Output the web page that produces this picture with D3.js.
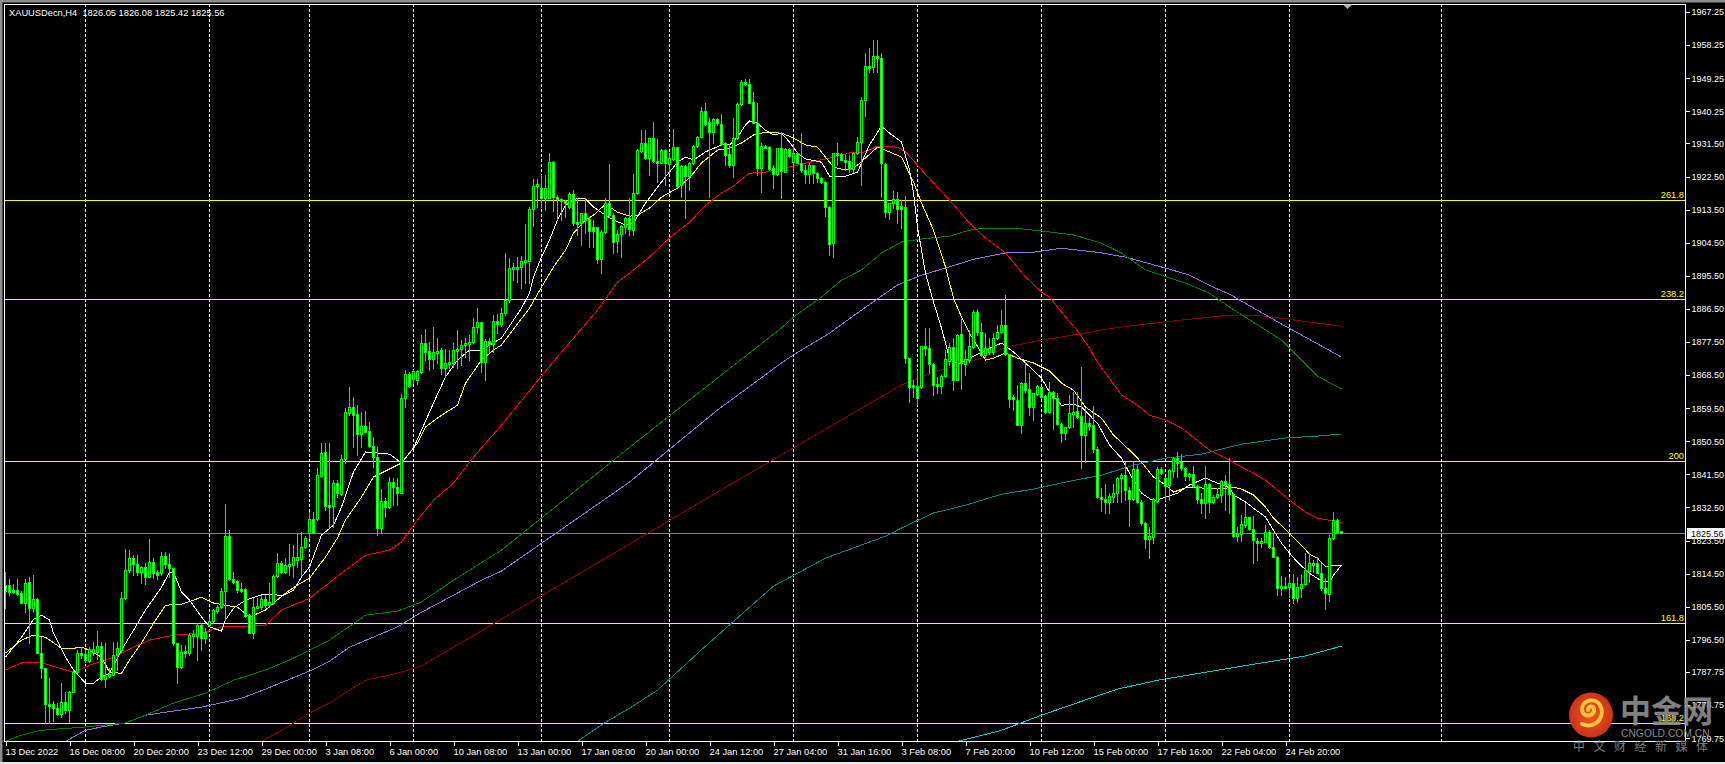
<!DOCTYPE html>
<html>
<head>
<meta charset="utf-8">
<title>XAUUSDecn,H4</title>
<script src="https://cdn.jsdelivr.net/npm/d3@7"></script>
<style>
  html, body { margin: 0; padding: 0; background: #000; overflow: hidden; }
  svg { display: block; }
  text { font-family: "Liberation Sans", Arial, sans-serif; font-size: 9.3px; fill: #fff; }
</style>
</head>
<body>
<svg width="1725" height="764"></svg>
<script>
// candles, one entry per H4 bar
const opens = [
  1811.4,1811.4,1810.0,1810.0,1809.2,1806.5,1812.2,1805.1,1807.6,1792.9,
  1788.8,1779.0,1779.0,1777.9,1776.3,1779.6,1777.4,1782.3,1787.7,1792.9,
  1792.6,1790.7,1793.2,1793.2,1794.8,1785.8,1786.6,1786.9,1792.3,1793.7,
  1807.8,1815.5,1818.7,1817.1,1814.9,1816.3,1813.6,1817.6,1814.9,1814.6,
  1819.3,1817.1,1816.0,1795.6,1789.1,1793.4,1792.9,1797.5,1797.5,1800.5,
  1797.0,1800.5,1801.6,1804.3,1805.4,1809.8,1824.7,1813.0,1812.5,1810.3,
  1810.3,1803.2,1798.3,1805.1,1805.4,1807.6,1805.9,1806.5,1813.8,1817.4,
  1814.9,1816.8,1816.8,1818.2,1818.4,1821.7,1825.5,1829.3,1829.3,1841.0,
  1847.6,1833.1,1832.9,1839.1,1836.1,1845.6,1858.2,1859.8,1857.9,1852.5,
  1854.6,1853.3,1849.2,1846.2,1826.9,1834.2,1832.6,1839.4,1838.0,1836.4,
  1862.2,1868.8,1867.4,1867.1,1869.3,1877.2,1875.0,1872.9,1874.5,1875.3,
  1870.4,1871.5,1871.8,1875.0,1875.6,1876.7,1877.2,1877.5,1881.6,1882.9,
  1872.0,1877.7,1876.9,1883.2,1882.4,1885.4,1888.9,1897.6,1897.6,1897.9,
  1899.5,1899.5,1913.7,1919.9,1919.4,1916.6,1916.6,1926.4,1916.9,1916.4,
  1915.8,1914.2,1917.7,1910.1,1909.8,1912.6,1910.9,1908.8,1908.8,1900.0,
  1907.4,1915.3,1912.0,1904.9,1906.9,1908.8,1911.2,1907.9,1918.0,1929.4,
  1931.6,1927.5,1932.9,1926.7,1926.2,1929.7,1925.9,1927.3,1930.5,1920.2,
  1925.3,1922.6,1926.2,1930.8,1933.2,1940.3,1937.3,1934.6,1938.1,1936.8,
  1931.6,1928.6,1925.6,1932.9,1942.2,1948.2,1947.7,1942.8,1937.0,1924.8,
  1930.8,1930.5,1924.8,1923.2,1930.2,1923.7,1930.0,1926.4,1928.9,1926.2,
  1924.3,1923.2,1925.6,1923.4,1922.1,1921.0,1914.2,1904.4,1928.9,1928.6,
  1927.0,1926.7,1924.5,1928.9,1931.9,1943.3,1952.5,1952.3,1955.3,1954.7,
  1925.9,1912.8,1915.3,1916.4,1914.5,1914.2,1873.1,1865.8,1865.5,1865.2,
  1876.4,1875.8,1871.5,1866.1,1865.5,1868.2,1872.3,1876.1,1867.1,1879.7,
  1871.5,1872.6,1876.1,1885.6,1880.2,1873.9,1874.8,1874.8,1878.6,1880.2,
  1882.1,1874.2,1862.5,1861.7,1854.9,1866.3,1864.7,1859.8,1863.3,1865.2,
  1862.8,1858.4,1863.9,1862.2,1855.2,1852.7,1854.4,1858.2,1858.7,1857.4,
  1852.2,1855.4,1854.9,1848.4,1835.3,1834.8,1834.0,1835.3,1836.4,1840.5,
  1841.3,1837.2,1834.8,1842.9,1834.0,1828.2,1823.9,1824.4,1834.2,1842.9,
  1840.5,1838.6,1842.4,1845.9,1844.8,1843.2,1841.0,1841.6,1838.3,1834.8,
  1833.7,1838.9,1834.0,1835.3,1835.9,1839.7,1838.9,1836.1,1824.7,1825.3,
  1827.7,1829.9,1826.6,1823.4,1823.1,1823.1,1825.8,1821.7,1819.0,1810.6,
  1811.1,1810.8,1811.9,1807.8,1810.6,1811.6,1815.2,1817.1,1817.4,1814.6,
  1810.6,1808.9,1824.2,1829.1,1826.05
];
const highs = [
  1814.9,1813.0,1811.6,1813.0,1809.8,1813.0,1813.6,1814.1,1807.8,1797.2,
  1788.8,1786.1,1779.8,1779.3,1784.7,1782.3,1782.5,1788.3,1793.7,1794.5,
  1793.7,1794.5,1795.9,1798.9,1795.9,1795.6,1788.8,1795.9,1795.9,1809.5,
  1821.2,1820.9,1819.5,1819.5,1816.5,1817.4,1823.9,1818.7,1815.5,1820.4,
  1820.4,1820.1,1816.0,1795.6,1795.1,1795.1,1798.3,1799.1,1801.0,1801.0,
  1799.7,1802.7,1804.9,1805.9,1810.6,1833.4,1826.3,1814.9,1812.7,1811.9,
  1810.6,1803.5,1807.8,1807.8,1808.7,1808.7,1811.9,1814.1,1820.1,1817.9,
  1818.7,1822.5,1822.3,1825.3,1825.8,1824.7,1831.2,1831.2,1843.2,1850.0,
  1850.0,1850.0,1839.9,1839.9,1846.7,1859.5,1865.2,1862.5,1860.3,1858.4,
  1858.7,1855.7,1851.6,1848.9,1837.5,1835.0,1840.8,1840.5,1840.5,1863.3,
  1869.9,1869.3,1869.9,1869.9,1879.4,1881.0,1877.5,1881.6,1878.6,1875.8,
  1875.6,1875.3,1877.2,1880.7,1878.0,1878.6,1879.4,1884.0,1886.7,1882.9,
  1878.3,1878.6,1884.8,1885.1,1886.7,1901.7,1900.3,1899.0,1900.6,1900.9,
  1909.6,1914.2,1921.8,1921.8,1922.9,1922.9,1928.9,1926.7,1917.5,1916.6,
  1916.1,1918.3,1918.8,1916.6,1912.6,1916.6,1911.5,1910.7,1908.8,1907.9,
  1916.6,1925.9,1912.6,1907.9,1909.3,1911.5,1916.6,1923.2,1930.0,1935.1,
  1935.1,1932.9,1937.3,1932.7,1930.0,1930.0,1928.9,1935.4,1930.5,1925.6,
  1925.6,1926.4,1931.1,1933.5,1941.4,1942.5,1938.4,1938.4,1938.4,1939.5,
  1931.9,1931.3,1938.4,1942.5,1948.7,1949.0,1949.0,1945.5,1942.5,1931.6,
  1931.1,1930.8,1925.6,1930.2,1934.6,1930.2,1930.2,1931.1,1929.2,1934.3,
  1925.6,1926.2,1925.6,1923.7,1922.4,1921.3,1914.5,1928.9,1931.6,1928.9,
  1928.3,1928.3,1929.2,1933.2,1944.1,1956.1,1957.4,1959.6,1959.6,1956.1,
  1926.2,1915.3,1918.5,1918.3,1916.1,1917.2,1873.1,1867.1,1869.9,1876.4,
  1881.3,1881.3,1871.8,1868.0,1868.5,1875.3,1877.2,1878.6,1879.7,1883.7,
  1875.3,1880.7,1886.2,1886.4,1882.6,1879.9,1878.6,1879.9,1882.1,1886.2,
  1890.3,1874.2,1863.1,1865.8,1866.6,1872.0,1869.0,1863.6,1865.8,1865.2,
  1863.1,1866.6,1864.1,1863.6,1855.4,1854.4,1863.1,1863.9,1863.9,1870.7,
  1859.5,1856.8,1860.1,1848.9,1837.8,1838.9,1836.4,1838.9,1840.8,1841.8,
  1844.8,1838.0,1845.1,1844.0,1834.5,1828.5,1827.2,1835.0,1843.5,1843.5,
  1840.8,1842.9,1846.2,1847.6,1847.0,1843.5,1841.8,1843.7,1838.6,1836.4,
  1843.7,1839.1,1835.9,1837.2,1839.9,1841.3,1845.9,1836.4,1827.2,1830.4,
  1833.7,1829.9,1830.2,1824.2,1824.2,1827.7,1826.3,1825.5,1819.3,1813.8,
  1813.6,1813.6,1814.4,1813.6,1814.1,1820.1,1820.1,1818.2,1819.0,1817.4,
  1813.3,1824.9,1831.2,1829.3,1826.08
];
const lows = [
  1805.1,1808.7,1809.2,1808.7,1806.5,1804.0,1795.6,1804.0,1792.9,1786.1,
  1773.8,1773.8,1774.4,1776.0,1775.5,1776.6,1774.1,1782.3,1787.4,1791.5,
  1790.4,1790.4,1792.4,1791.3,1785.5,1783.6,1786.4,1786.9,1788.3,1793.2,
  1807.6,1814.9,1814.1,1814.1,1811.9,1811.6,1813.6,1813.3,1813.0,1814.1,
  1816.0,1813.6,1795.1,1784.7,1788.8,1791.8,1792.3,1794.5,1791.0,1793.7,
  1795.6,1800.2,1801.3,1803.8,1805.1,1801.9,1812.7,1811.9,1809.5,1809.5,
  1802.7,1798.3,1797.0,1805.1,1804.9,1805.4,1805.4,1806.2,1813.6,1814.6,
  1814.6,1814.1,1813.6,1816.3,1814.1,1821.4,1824.2,1825.5,1829.1,1840.8,
  1831.8,1827.2,1827.2,1835.3,1835.9,1844.6,1857.6,1848.9,1846.7,1848.9,
  1853.0,1848.9,1843.5,1825.0,1825.5,1830.0,1832.3,1833.1,1833.1,1836.4,
  1859.8,1865.2,1866.3,1866.1,1869.0,1872.6,1869.9,1870.4,1871.8,1868.8,
  1868.0,1870.4,1870.7,1870.4,1871.2,1873.4,1872.6,1877.2,1879.9,1869.3,
  1867.1,1874.8,1874.8,1879.9,1881.8,1884.8,1888.4,1894.3,1893.8,1892.2,
  1893.5,1893.5,1909.0,1914.2,1914.2,1913.4,1916.6,1913.1,1910.9,1910.7,
  1911.5,1913.9,1909.3,1906.6,1903.9,1907.1,1903.3,1903.3,1898.9,1896.2,
  1907.1,1911.5,1901.7,1902.0,1900.6,1907.1,1906.6,1906.6,1917.7,1929.2,
  1927.3,1922.9,1926.4,1921.0,1926.2,1920.2,1923.4,1927.0,1919.6,1916.9,
  1911.2,1918.8,1925.9,1930.5,1933.2,1936.5,1916.9,1931.6,1936.5,1931.1,
  1925.6,1925.1,1922.4,1932.7,1941.9,1947.4,1942.5,1937.0,1922.9,1918.3,
  1930.2,1924.3,1919.4,1922.9,1916.6,1923.7,1927.8,1923.7,1926.2,1923.7,
  1920.7,1920.7,1920.7,1921.0,1920.7,1911.7,1901.1,1900.6,1925.6,1927.0,
  1924.3,1923.7,1923.7,1928.6,1920.2,1939.0,1950.9,1950.9,1950.9,1916.9,
  1911.5,1910.9,1913.9,1909.8,1908.5,1871.8,1861.2,1862.5,1860.3,1864.9,
  1873.9,1869.0,1863.1,1863.6,1863.6,1868.0,1871.2,1864.4,1867.1,1864.7,
  1868.5,1872.0,1875.8,1879.4,1873.7,1873.4,1874.2,1874.2,1878.3,1879.9,
  1873.9,1859.8,1859.0,1854.9,1852.7,1863.9,1857.6,1856.3,1863.1,1862.2,
  1858.2,1858.2,1853.8,1854.9,1850.3,1851.1,1854.1,1854.4,1856.8,1843.2,
  1844.8,1853.5,1847.6,1835.0,1831.5,1831.0,1831.0,1834.0,1834.0,1834.0,
  1834.5,1827.4,1834.5,1833.7,1827.7,1821.4,1818.7,1822.8,1834.0,1841.6,
  1834.5,1834.5,1840.8,1840.8,1842.7,1839.9,1839.9,1838.0,1833.7,1831.0,
  1829.6,1831.2,1833.7,1835.0,1834.0,1831.8,1831.0,1824.4,1823.4,1823.4,
  1827.2,1826.3,1817.4,1818.2,1821.7,1823.1,1821.4,1819.0,1808.7,1808.7,
  1810.6,1808.1,1806.5,1806.8,1808.1,1811.4,1812.2,1814.9,1814.6,1810.0,
  1804.9,1807.0,1823.9,1825.8,1825.42
];
const closes = [
  1809.8,1809.5,1809.5,1808.9,1806.5,1811.9,1805.1,1807.6,1792.9,1788.8,
  1779.0,1778.7,1777.9,1776.3,1779.6,1777.4,1782.3,1787.7,1792.9,1792.6,
  1791.0,1794.0,1794.0,1794.8,1785.8,1786.6,1787.2,1792.3,1794.2,1807.8,
  1815.5,1818.7,1817.1,1814.9,1816.3,1813.6,1817.6,1814.6,1814.1,1819.3,
  1817.1,1816.0,1795.6,1789.1,1793.2,1792.9,1797.8,1798.1,1800.5,1797.0,
  1798.6,1801.6,1804.6,1805.4,1809.8,1824.7,1813.0,1812.2,1810.0,1809.8,
  1803.0,1798.3,1805.4,1805.7,1807.6,1805.9,1806.8,1813.8,1817.4,1814.9,
  1816.8,1817.1,1819.0,1819.0,1821.7,1824.2,1829.3,1825.5,1841.3,1847.3,
  1832.9,1832.6,1839.1,1836.4,1845.6,1858.4,1859.8,1857.6,1852.5,1854.6,
  1853.0,1849.2,1846.2,1826.9,1834.2,1832.6,1839.4,1838.0,1836.4,1862.2,
  1868.8,1865.5,1869.6,1869.6,1877.2,1874.8,1872.9,1874.8,1875.0,1870.4,
  1871.8,1872.0,1875.3,1875.6,1876.7,1877.2,1877.5,1881.6,1882.9,1872.0,
  1877.7,1876.9,1883.2,1882.4,1885.4,1888.9,1897.6,1897.9,1897.9,1899.5,
  1899.8,1913.7,1919.9,1920.5,1916.6,1919.4,1926.4,1916.9,1916.6,1915.8,
  1915.3,1917.7,1909.8,1909.6,1912.6,1910.7,1907.7,1907.7,1900.0,1907.4,
  1915.3,1912.0,1904.7,1906.9,1909.0,1911.2,1908.2,1918.0,1929.7,1931.6,
  1927.5,1932.9,1926.7,1926.2,1929.7,1926.2,1927.5,1930.5,1919.9,1925.3,
  1922.6,1926.2,1930.8,1933.2,1940.3,1936.8,1934.6,1938.1,1937.0,1931.3,
  1928.3,1925.6,1932.9,1942.2,1948.2,1947.7,1942.5,1937.0,1924.8,1930.8,
  1930.5,1924.5,1923.2,1930.2,1924.0,1930.0,1928.1,1928.9,1926.2,1924.3,
  1923.2,1925.6,1923.4,1922.1,1921.0,1914.2,1904.1,1928.9,1928.6,1927.0,
  1926.4,1924.5,1928.9,1931.9,1943.3,1952.5,1952.3,1955.3,1954.7,1926.2,
  1912.8,1915.3,1916.4,1913.7,1913.7,1873.1,1865.2,1865.2,1862.2,1876.4,
  1875.8,1871.5,1865.8,1865.5,1868.2,1872.9,1876.1,1867.1,1879.4,1871.8,
  1872.9,1876.4,1885.6,1880.2,1873.9,1875.8,1875.8,1878.6,1880.2,1882.1,
  1874.2,1862.0,1862.0,1854.9,1866.3,1864.4,1859.8,1863.6,1865.5,1862.5,
  1858.4,1863.9,1862.2,1855.2,1852.7,1854.4,1858.2,1858.4,1857.1,1852.2,
  1855.4,1854.6,1848.4,1835.3,1834.8,1834.0,1835.6,1836.4,1840.5,1841.3,
  1837.2,1834.8,1842.9,1834.0,1828.2,1823.9,1824.7,1834.8,1842.9,1841.8,
  1838.3,1842.7,1845.9,1844.6,1843.2,1841.0,1841.6,1838.3,1834.8,1833.7,
  1838.9,1834.0,1835.3,1836.1,1839.7,1838.6,1836.1,1824.7,1825.3,1828.0,
  1829.9,1826.6,1823.6,1823.1,1823.4,1825.8,1821.7,1819.0,1810.6,1811.1,
  1810.6,1811.9,1807.8,1810.8,1811.6,1815.5,1817.4,1817.4,1814.6,1810.6,
  1809.2,1824.2,1829.1,1825.8,1825.56
];

// moving averages as [bar, price]
const maWhite = [[0,1791.8],[4,1797.2],[7,1802.1],[9,1803.2],[11,1801.9],[12,1798.3],[15,1791.8],[17,1788.3],[20,1784.7],[22,1784.7],[24,1786.4],[26,1787.4],[29,1793.7],[32,1799.1],[35,1804.6],[39,1810.8],[41,1814.9],[42,1814.9],[44,1809.5],[46,1807.3],[49,1802.7],[51,1800.0],[54,1798.9],[55,1801.9],[57,1805.1],[60,1807.3],[64,1808.7],[67,1808.9],[69,1808.4],[72,1810.0],[74,1813.6],[76,1816.3],[79,1825.0],[82,1827.7],[84,1832.6],[87,1842.1],[90,1847.6],[93,1847.3],[96,1847.0],[99,1844.6],[102,1848.6],[104,1853.5],[107,1860.9],[110,1868.0],[113,1872.6],[116,1875.3],[119,1875.3],[124,1878.6],[129,1886.7],[131,1890.8],[132,1895.2],[134,1900.6],[136,1905.2],[138,1910.7],[140,1914.7],[143,1916.6],[145,1916.4],[147,1914.2],[150,1912.0],[152,1910.7],[155,1909.3],[157,1909.8],[160,1915.3],[163,1919.6],[165,1922.4],[168,1926.4],[170,1927.8],[172,1927.0],[175,1929.2],[179,1931.1],[181,1931.1],[183,1933.2],[185,1936.5],[186,1937.6],[188,1937.0],[190,1935.1],[192,1933.8],[194,1934.3],[196,1931.9],[198,1928.9],[200,1927.3],[204,1926.4],[206,1922.6],[210,1922.6],[213,1923.7],[216,1931.1],[219,1936.2],[221,1934.3],[224,1931.9],[226,1924.3],[227,1918.0],[228,1908.8],[230,1896.2],[232,1888.4],[234,1881.3],[236,1873.1],[238,1871.5],[241,1873.1],[245,1875.3],[249,1877.2],[252,1874.8],[255,1871.8],[259,1867.7],[261,1863.9],[264,1860.3],[267,1860.6],[269,1859.8],[273,1855.4],[276,1849.5],[279,1845.9],[281,1841.8],[284,1836.4],[287,1834.2],[290,1835.3],[293,1836.4],[296,1838.6],[300,1840.5],[303,1839.1],[306,1838.0],[307,1835.9],[310,1834.0],[312,1832.3],[315,1829.9],[317,1826.3],[319,1822.8],[321,1820.1],[323,1817.6],[326,1814.6],[329,1812.5],[331,1812.2],[332,1814.1],[334,1816.8]];
const maYellow = [[0,1792.9],[4,1796.4],[7,1797.8],[10,1797.2],[14,1794.2],[17,1794.2],[19,1794.5],[21,1793.7],[24,1791.8],[26,1787.7],[29,1787.4],[31,1791.0],[34,1795.6],[37,1801.0],[40,1805.9],[44,1806.2],[47,1807.3],[49,1808.1],[52,1806.5],[55,1805.9],[58,1805.4],[61,1802.7],[65,1804.6],[67,1806.5],[70,1809.2],[73,1811.4],[76,1813.3],[80,1819.0],[83,1824.2],[85,1829.1],[89,1835.3],[92,1840.8],[95,1842.4],[99,1844.6],[103,1850.0],[105,1854.4],[109,1857.6],[113,1860.3],[115,1866.3],[119,1872.6],[122,1875.3],[124,1876.7],[131,1886.7],[134,1892.4],[137,1897.9],[140,1902.5],[142,1907.1],[145,1910.7],[147,1912.0],[150,1915.0],[153,1912.8],[156,1911.7],[158,1912.0],[161,1913.9],[164,1916.9],[168,1919.4],[171,1922.1],[174,1926.2],[178,1929.7],[181,1930.2],[184,1931.6],[187,1933.8],[190,1934.6],[194,1934.3],[197,1933.0],[200,1931.1],[203,1930.5],[205,1927.8],[207,1925.1],[209,1924.5],[211,1924.5],[213,1925.6],[218,1930.5],[221,1929.2],[224,1927.8],[227,1921.0],[229,1915.3],[232,1907.9],[235,1897.9],[237,1889.4],[239,1884.3],[241,1879.9],[244,1874.5],[245,1872.6],[247,1873.1],[250,1874.5],[253,1873.1],[257,1871.8],[261,1869.6],[264,1866.3],[267,1864.4],[270,1859.8],[274,1856.8],[277,1852.2],[281,1848.1],[284,1844.8],[287,1840.8],[290,1838.6],[292,1836.7],[295,1837.8],[299,1837.8],[303,1837.5],[307,1838.0],[309,1837.5],[312,1835.9],[315,1832.6],[317,1829.6],[321,1825.5],[324,1822.2],[326,1819.8],[328,1818.7],[330,1816.5],[334,1816.8]];
const maRed = [[0,1788.3],[4,1790.2],[9,1790.4],[11,1789.6],[17,1787.7],[21,1789.6],[27,1791.8],[32,1794.5],[36,1796.4],[42,1797.8],[49,1798.3],[54,1800.0],[60,1800.2],[65,1800.5],[69,1804.6],[76,1807.8],[84,1814.6],[90,1819.5],[96,1820.9],[99,1823.1],[102,1827.7],[107,1834.5],[112,1839.1],[117,1846.2],[124,1854.9],[136,1870.9],[148,1886.2],[153,1893.8],[156,1896.2],[161,1900.6],[166,1905.8],[171,1910.1],[175,1914.7],[179,1918.0],[182,1919.9],[186,1923.4],[190,1923.7],[196,1925.1],[201,1926.4],[206,1927.5],[211,1928.9],[215,1929.2],[218,1930.8],[223,1930.5],[225,1929.2],[228,1925.6],[232,1920.7],[236,1916.1],[241,1909.8],[245,1905.8],[250,1901.7],[255,1895.2],[259,1891.1],[261,1889.7],[265,1884.3],[268,1880.5],[271,1875.8],[273,1872.0],[279,1863.1],[283,1860.3],[286,1857.6],[290,1856.3],[294,1854.1],[301,1848.1],[305,1845.9],[309,1843.5],[312,1841.8],[315,1839.9],[321,1834.5],[325,1831.2],[328,1829.6],[332,1828.8],[334,1828.2]];
const maGreen = [[0,1768.9],[4,1770.6],[9,1771.9],[20,1772.8],[30,1773.9],[35,1776.0],[42,1779.3],[50,1782.0],[57,1785.5],[65,1788.3],[71,1791.0],[76,1793.7],[81,1796.4],[90,1803.2],[98,1804.3],[104,1806.8],[112,1812.7],[118,1816.8],[124,1820.9],[157,1849.7],[178,1867.7],[194,1881.3],[197,1884.3],[204,1889.7],[209,1894.3],[214,1897.1],[219,1901.7],[224,1904.7],[229,1905.5],[236,1906.3],[241,1907.9],[245,1908.5],[252,1908.5],[259,1907.7],[267,1906.6],[274,1904.4],[279,1901.7],[285,1897.1],[295,1893.5],[301,1890.8],[306,1887.0],[319,1878.0],[328,1868.2],[334,1864.7]];
const maPurple = [[15,1768.9],[20,1771.9],[24,1772.8],[30,1773.9],[35,1776.0],[40,1776.8],[49,1778.2],[59,1780.6],[65,1783.1],[76,1788.0],[81,1790.7],[86,1794.5],[98,1800.0],[104,1804.0],[119,1812.7],[124,1815.2],[156,1839.4],[178,1859.0],[194,1871.8],[197,1874.0],[206,1879.9],[213,1885.4],[219,1890.0],[223,1893.0],[229,1895.7],[235,1897.6],[242,1900.0],[250,1901.7],[257,1901.9],[264,1903.0],[273,1901.9],[280,1900.6],[290,1897.6],[296,1895.7],[302,1892.4],[306,1890.5],[319,1882.4],[334,1873.4]];
const maDarkRed = [[64,1768.9],[70,1772.5],[76,1776.6],[81,1779.3],[86,1782.8],[90,1785.5],[98,1787.4],[104,1789.4],[153,1820.6],[178,1836.7],[224,1865.8],[232,1869.3],[244,1873.1],[250,1876.1],[259,1878.0],[268,1879.6],[277,1881.3],[289,1882.9],[306,1884.8],[313,1884.8],[334,1881.8]];
const maTeal = [[143,1768.9],[150,1774.1],[156,1777.9],[163,1782.8],[175,1794.8],[192,1811.1],[205,1818.7],[220,1824.7],[224,1826.9],[232,1831.0],[240,1833.1],[249,1836.1],[257,1837.5],[265,1839.4],[274,1841.3],[282,1844.0],[290,1845.9],[299,1847.0],[309,1849.7],[320,1851.4],[328,1851.9],[334,1852.5]];
const maCyan = [[238,1768.9],[249,1771.9],[259,1776.0],[272,1780.9],[278,1783.1],[288,1785.5],[314,1790.2],[325,1792.1],[334,1794.8]];

// horizontal levels and their labels
const fibLevels = [1916.1, 1889.1, 1845.0, 1801.0, 1774.0];
const fibLabels = ['261.8', '238.2', '200', '161.8', '138.2'];
const lastPrice = 1825.56;

// axes
const priceTicks = [1967.25,1958.25,1949.25,1940.25,1931.50,1922.50,1913.50,1904.50,1895.50,1886.50,1877.50,1868.50,1859.50,1850.50,1841.50,1832.50,1823.50,1814.50,1805.50,1796.50,1787.75,1778.75,1769.75];
const timeLabels = ['13 Dec 2022','16 Dec 08:00','20 Dec 20:00','23 Dec 12:00','29 Dec 00:00','3 Jan 08:00','6 Jan 00:00','10 Jan 08:00','13 Jan 00:00','17 Jan 08:00','20 Jan 00:00','24 Jan 12:00','27 Jan 04:00','31 Jan 16:00','3 Feb 08:00','7 Feb 20:00','10 Feb 12:00','15 Feb 00:00','17 Feb 16:00','22 Feb 04:00','24 Feb 20:00'];
const timeLabelBars = timeLabels.map((d, i) => i * 16);
const separatorBars = [20, 51, 76, 102, 134, 166, 197, 228, 259, 290, 321, 359];

const svg = d3.select('svg');
const plot = { left: 4, top: 4, right: 1685, bottom: 741 };

const x = d3.scaleLinear().domain([0, 334]).range([5.5, 1341.5]);
const y = d3.scaleLinear().domain([1967.25, 1787.75]).range([12, 672]);
const py = (v) => Math.round(y(v)) + 0.5;

svg.append('rect').attr('width', 1725).attr('height', 764).attr('fill', '#000');

// window chrome
svg.append('rect').attr('width', 1725).attr('height', 2.5).attr('fill', '#8c8c8c');
svg.append('rect').attr('width', 2.5).attr('height', 764).attr('fill', '#8c8c8c');
svg.append('rect').attr('y', 762).attr('width', 1725).attr('height', 2).attr('fill', '#e8e8e8');

svg.append('clipPath').attr('id', 'plot-clip').append('rect')
  .attr('x', plot.left).attr('y', plot.top)
  .attr('width', plot.right - plot.left).attr('height', plot.bottom - plot.top);

const chart = svg.append('g').attr('clip-path', 'url(#plot-clip)');

// period separators
chart.selectAll('.sep').data(separatorBars).join('line')
  .attr('x1', (d) => x(d)).attr('x2', (d) => x(d))
  .attr('y1', plot.top).attr('y2', plot.bottom)
  .attr('stroke', '#fff').attr('stroke-dasharray', '3 2')
  .attr('shape-rendering', 'crispEdges');

// fibo levels + current price
chart.selectAll('.fib').data(fibLevels).join('line')
  .attr('x1', plot.left).attr('x2', plot.right)
  .attr('y1', (d) => py(d)).attr('y2', (d) => py(d))
  .attr('stroke', '#ffff00').attr('shape-rendering', 'crispEdges');

chart.append('line')
  .attr('x1', plot.left).attr('x2', plot.right)
  .attr('y1', py(lastPrice)).attr('y2', py(lastPrice))
  .attr('stroke', '#7d8494').attr('shape-rendering', 'crispEdges');

// moving averages
const maLine = d3.line().x((d) => x(d[0])).y((d) => y(d[1]));
const maSeries = [
  [maCyan, '#12c8d0'], [maTeal, '#0a8585'], [maDarkRed, '#8b0000'], [maPurple, '#9370db'],
  [maGreen, '#007f00'], [maRed, '#ff0000'], [maYellow, '#ffff00'], [maWhite, '#ffffff']
];
chart.selectAll('.ma').data(maSeries).join('path')
  .attr('fill', 'none')
  .attr('stroke', (d) => d[1])
  .attr('stroke-width', 1)
  .attr('shape-rendering', 'crispEdges')
  .attr('d', (d) => maLine(d[0]));

// candles
const bars = d3.range(opens.length);
const candle = chart.selectAll('.candle').data(bars).join('g')
  .attr('shape-rendering', 'crispEdges');

candle.append('rect')
  .attr('x', (i) => x(i) - 0.5).attr('width', 1)
  .attr('y', (i) => Math.round(y(highs[i])))
  .attr('height', (i) => Math.max(1, Math.round(y(lows[i])) - Math.round(y(highs[i])) + 1))
  .attr('fill', '#00ff00');

const bodyTop = (i) => Math.round(y(Math.max(opens[i], closes[i])));
const bodyHeight = (i) => Math.max(3, Math.round(y(Math.min(opens[i], closes[i]))) - bodyTop(i) + 1);

candle.append('rect')
  .attr('x', (i) => x(i) - 1.5).attr('width', 3)
  .attr('y', bodyTop)
  .attr('height', bodyHeight)
  .attr('fill', '#00ff00');

candle.append('rect')
  .attr('x', (i) => x(i) - 0.5).attr('width', 1)
  .attr('y', (i) => bodyTop(i) + 1)
  .attr('height', (i) => bodyHeight(i) - 2)
  .attr('fill', (i) => (closes[i] < opens[i] ? '#fff' : '#000'));

// frame
svg.append('path')
  .attr('d', `M${plot.left + 0.5},${plot.bottom + 0.5}V${plot.top + 0.5}H${plot.right + 0.5}V${plot.bottom + 0.5}H${plot.left + 0.5}`)
  .attr('fill', 'none').attr('stroke', '#fff').attr('shape-rendering', 'crispEdges');

// shift marker at the top of the chart
svg.append('path').attr('d', 'M1343,4.5H1352L1347.5,9Z').attr('fill', '#9fb4c6');

// price axis
const yAxis = svg.append('g')
  .attr('transform', `translate(${plot.right + 0.5},0)`)
  .call(d3.axisRight(y).tickValues(priceTicks).tickFormat((d) => d.toFixed(2)).tickSize(4).tickPadding(2));
yAxis.select('.domain').remove();
yAxis.selectAll('line').attr('stroke', '#fff').attr('shape-rendering', 'crispEdges');
yAxis.selectAll('text').style('font-size', '9px');

// time axis
const xAxis = svg.append('g')
  .attr('transform', `translate(0,${plot.bottom + 0.5})`)
  .call(d3.axisBottom(x).tickValues(timeLabelBars).tickFormat((d) => timeLabels[d / 16]).tickSize(4).tickPadding(3));
xAxis.select('.domain').remove();
xAxis.selectAll('line').attr('stroke', '#fff').attr('shape-rendering', 'crispEdges');
xAxis.selectAll('text').attr('text-anchor', 'start').attr('x', -0.5);

// level labels sit on top of the line, right aligned
svg.selectAll('.fib-label').data(fibLevels).join('text')
  .attr('x', plot.right - 1).attr('y', (d) => py(d) - 3)
  .attr('text-anchor', 'end')
  .style('fill', '#ffff00')
  .text((d, i) => fibLabels[i]);

// current price tag
svg.append('rect')
  .attr('x', plot.right + 2).attr('y', py(lastPrice) - 5.5).attr('width', 38).attr('height', 11).attr('fill', '#fff');
svg.append('text')
  .attr('x', plot.right + 6).attr('y', py(lastPrice) + 3.5)
  .style('fill', '#000').style('font-size', '9px')
  .text(lastPrice.toFixed(2));

// symbol line
svg.append('text')
  .attr('x', 9).attr('y', 16)
  .attr('xml:space', 'preserve')
  .style('white-space', 'pre')
  .text('XAUUSDecn,H4  1826.05 1826.08 1825.42 1825.56');

// watermark
const defs = svg.append('defs');
const grad = defs.append('radialGradient').attr('id', 'logo-fill');
grad.append('stop').attr('offset', '0%').attr('stop-color', '#ef5a1e');
grad.append('stop').attr('offset', '100%').attr('stop-color', '#c9331a');

const logo = svg.append('g');
logo.append('ellipse').attr('cx', 1591).attr('cy', 715).attr('rx', 22).attr('ry', 22.5).attr('fill', 'url(#logo-fill)');
logo.append('path')
  .attr('d', 'M1582,724C1596,730 1606,716 1600,705C1595,697 1581,700 1582,710C1583,718 1595,717 1594,709C1593,705 1588,706 1588,710')
  .attr('fill', 'none').attr('stroke', '#f7c53c').attr('stroke-width', 4).attr('stroke-linecap', 'round');
logo.append('text')
  .attr('x', 1620).attr('y', 722)
  .style('font-family', '"Noto Sans CJK SC"').style('font-size', '31px').style('font-weight', 700)
  .style('fill', '#8e8e8e').attr('opacity', 0.9)
  .text('中金网');
logo.append('text')
  .attr('x', 1621).attr('y', 737)
  .style('font-size', '10.3px').style('fill', '#8a8a8a')
  .text('CNGOLD.COM.CN');
logo.append('text')
  .attr('x', 1573).attr('y', 751)
  .style('font-family', '"Noto Sans CJK SC"').style('font-size', '12px').style('fill', '#7c7c7c')
  .attr('textLength', 135)
  .text('中文财经新媒体');
</script>
</body>
</html>
